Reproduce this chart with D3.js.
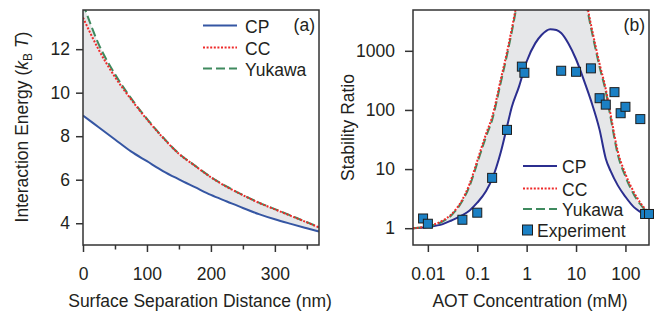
<!DOCTYPE html>
<html>
<head>
<meta charset="utf-8">
<script src="https://cdn.jsdelivr.net/npm/d3@7"></script>
<style>
  html, body { margin: 0; padding: 0; background: #fff; }
  svg { display: block; font-family: "Liberation Sans", Arial, Helvetica, sans-serif; }
  text { fill: #231f20; }
</style>
</head>
<body>
<svg id="chart" width="657" height="314"></svg>
<script>
// ---------------- Panel (a) data ----------------
const distX   = [0, 25, 50, 75, 100, 125, 150, 175, 200, 225, 250, 275, 300, 325, 350, 369];
const energyCP = [8.95, 8.4, 7.85, 7.3, 6.85, 6.4, 6.02, 5.66, 5.3, 5.0, 4.7, 4.42, 4.18, 3.97, 3.77, 3.62];
const energyCC = [13.45, 11.95, 10.72, 9.7, 8.77, 7.93, 7.19, 6.64, 6.11, 5.67, 5.29, 4.94, 4.64, 4.34, 4.04, 3.81];
const energyYukawa = [14.1, 12.2, 10.85, 9.75, 8.8, 7.95, 7.2, 6.65, 6.12, 5.68, 5.3, 4.95, 4.65, 4.35, 4.05, 3.82];
const distTicks = [0, 100, 200, 300];
const distMinorTicks = [50, 150, 250, 350];
const energyTicks = [4, 6, 8, 10, 12];

// ---------------- Panel (b) data ----------------
const aotX = [0.005, 0.01, 0.02, 0.03, 0.05, 0.07, 0.1, 0.15, 0.2, 0.3, 0.4, 0.5, 0.7, 1, 1.5, 2, 3, 4, 5, 7, 10, 15, 20, 30, 40, 50, 70, 100, 150, 200, 300];
const stabCP = [1.0, 1.05, 1.17, 1.35, 1.66, 2.0, 2.7, 4.2, 6.8, 19.5, 52, 112, 248, 660, 1350, 1850, 2320, 2250, 2000, 1330, 720, 290, 145, 46, 15, 9.3, 5.3, 3.4, 2.25, 1.89, 1.55];
const stabCC = [1.0, 1.08, 1.35, 1.72, 3.05, 5.6, 13.8, 39, 76, 330, 950, 2350, 9500, 28000, 65000, 95000, 105000, 100000, 85000, 55000, 28000, 9000, 2800, 600, 225, 85, 20, 8.3, 4.0, 2.7, 1.8];
const stabYukawa = [1.0, 1.07, 1.3, 1.66, 2.9, 5.2, 12.6, 35, 68, 295, 850, 2090, 8900, 25000, 60000, 90000, 100000, 95000, 80000, 50000, 25000, 8000, 2500, 530, 205, 75, 17.7, 7.5, 3.65, 2.54, 1.74];
const expX = [0.008, 0.01, 0.05, 0.1, 0.2, 0.4, 0.8, 0.9, 5, 10, 20, 30, 40, 60, 80, 100, 200, 250, 300];
const expY = [1.46, 1.19, 1.39, 1.83, 7.1, 46, 540, 425, 460, 442, 505, 158, 123, 200, 88, 113, 70, 1.74, 1.74];
const aotTicks = [0.01, 0.1, 1, 10, 100];
const aotTickLabels = ["0.01", "0.1", "1", "10", "100"];
const stabTicks = [1, 10, 100, 1000];
const stabTickLabels = ["1", "10", "100", "1000"];

const legendA = ["CP", "CC", "Yukawa"];
const legendB = ["CP", "CC", "Yukawa", "Experiment"];

// ---------------- styles ----------------
const COL_CP_A = "#3556a3";
const COL_CP_B = "#2b2e8f";
const COL_CC = "#ee2a2a";
const COL_YUK = "#3f8a5e";
const COL_FILL = "#e6e7e9";
const COL_AXIS = "#333333";
const COL_SQ = "#1b80c4";
const DASH_YUK = "9,4";
const DASH_CC = "2,1.6";
const FS = 17.5;

const svg = d3.select("#chart");
const defs = svg.append("defs");

function frame(g, x0, x1, y0, y1) {
  g.append("rect").attr("x", x0).attr("y", y0).attr("width", x1 - x0).attr("height", y1 - y0)
    .attr("fill", "none").attr("stroke", COL_AXIS).attr("stroke-width", 1.5);
}
function styleAxis(a) {
  a.select(".domain").remove();
  a.selectAll("line").attr("stroke", COL_AXIS).attr("stroke-width", 1.5);
  a.selectAll("text").attr("font-size", FS).attr("font-family", null).attr("fill", "#231f20");
}

// ================= Panel (a) =================
{
  const L = 83, R = 319, T = 10, B = 245;
  const x = d3.scaleLinear().domain([0, 369]).range([L, R]);
  const y = d3.scaleLinear().domain([3, 13.8]).range([B, T]);
  const g = svg.append("g");
  defs.append("clipPath").attr("id", "clipA").append("rect")
    .attr("x", L).attr("y", T).attr("width", R - L).attr("height", B - T);
  const pg = g.append("g").attr("clip-path", "url(#clipA)");

  const idx = d3.range(distX.length);
  pg.append("path")
    .attr("d", d3.area().x(i => x(distX[i])).y0(i => y(energyCP[i])).y1(i => y(energyYukawa[i])).curve(d3.curveMonotoneX)(idx))
    .attr("fill", COL_FILL);
  const line = arr => d3.line().x(i => x(distX[i])).y(i => y(arr[i])).curve(d3.curveMonotoneX)(idx);
  pg.append("path").attr("d", line(energyCP)).attr("fill", "none").attr("stroke", COL_CP_A).attr("stroke-width", 2);
  pg.append("path").attr("d", line(energyYukawa)).attr("fill", "none").attr("stroke", COL_YUK).attr("stroke-width", 2).attr("stroke-dasharray", DASH_YUK);
  pg.append("path").attr("d", line(energyCC)).attr("fill", "none").attr("stroke", COL_CC).attr("stroke-width", 2).attr("stroke-dasharray", DASH_CC);

  frame(g, L, R, T, B);

  g.append("g").attr("transform", `translate(0,${B})`)
    .call(d3.axisBottom(x).tickValues(distTicks).tickSize(7).tickPadding(15.6).tickSizeOuter(0))
    .call(styleAxis);
  g.append("g").attr("transform", `translate(0,${B})`)
    .call(d3.axisBottom(x).tickValues(distMinorTicks).tickSize(4.5).tickFormat("").tickSizeOuter(0))
    .call(styleAxis);
  g.append("g").attr("transform", `translate(${L},0)`)
    .call(d3.axisLeft(y).tickValues(energyTicks).tickSize(7).tickPadding(6).tickSizeOuter(0))
    .call(styleAxis);

  g.append("text").attr("x", 200).attr("y", 307).attr("text-anchor", "middle").attr("font-size", FS)
    .text("Surface Separation Distance (nm)");

  const yt = g.append("text").attr("transform", "translate(22,127) rotate(-90)").attr("y", 6.1)
    .attr("text-anchor", "middle").attr("font-size", FS);
  yt.append("tspan").text("Interaction Energy (");
  yt.append("tspan").attr("font-style", "italic").text("k");
  yt.append("tspan").attr("font-size", 12).attr("dy", 4).text("B");
  yt.append("tspan").attr("dy", -4).text(" ");
  yt.append("tspan").attr("font-style", "italic").text("T");
  yt.append("tspan").text(")");

  g.append("text").attr("x", 315).attr("y", 25).attr("dy", "0.35em").attr("text-anchor", "end").attr("font-size", FS).text("(a)");

  const rowsA = [25.5, 47.5, 68.5];
  const stylesA = [
    { c: COL_CP_A, d: null }, { c: COL_CC, d: DASH_CC }, { c: COL_YUK, d: DASH_YUK }
  ];
  legendA.forEach((name, i) => {
    g.append("line").attr("x1", 203).attr("x2", 237).attr("y1", rowsA[i]).attr("y2", rowsA[i])
      .attr("stroke", stylesA[i].c).attr("stroke-width", 2).attr("stroke-dasharray", stylesA[i].d);
    g.append("text").attr("x", 245).attr("y", rowsA[i] + 1).attr("dy", "0.35em").attr("font-size", FS).text(name);
  });
}

// ================= Panel (b) =================
{
  const L = 413, R = 649, T = 10, B = 245;
  const x = d3.scaleLog().domain([0.005, 300]).range([L, R]);
  const y = d3.scaleLog().domain([0.52, 4900]).range([B, T]);
  const g = svg.append("g");
  defs.append("clipPath").attr("id", "clipB").append("rect")
    .attr("x", L).attr("y", T).attr("width", R - L).attr("height", B - T);
  const pg = g.append("g").attr("clip-path", "url(#clipB)");

  const idx = d3.range(aotX.length);
  pg.append("path")
    .attr("d", d3.area().x(i => x(aotX[i])).y0(i => y(stabCP[i])).y1(i => y(stabYukawa[i])).curve(d3.curveMonotoneX)(idx))
    .attr("fill", COL_FILL);
  const line = arr => d3.line().x(i => x(aotX[i])).y(i => y(arr[i])).curve(d3.curveMonotoneX)(idx);
  pg.append("path").attr("d", line(stabCP)).attr("fill", "none").attr("stroke", COL_CP_B).attr("stroke-width", 2);
  pg.append("path").attr("d", line(stabYukawa)).attr("fill", "none").attr("stroke", COL_YUK).attr("stroke-width", 2).attr("stroke-dasharray", DASH_YUK);
  pg.append("path").attr("d", line(stabCC)).attr("fill", "none").attr("stroke", COL_CC).attr("stroke-width", 2).attr("stroke-dasharray", DASH_CC);

  frame(g, L, R, T, B);

  const S = 9;
  g.append("g").selectAll("rect").data(d3.range(expX.length)).join("rect")
    .attr("x", i => x(expX[i]) - S / 2).attr("y", i => y(expY[i]) - S / 2)
    .attr("width", S).attr("height", S)
    .attr("fill", COL_SQ).attr("stroke", "#1d1d1d").attr("stroke-width", 1);

  g.append("g").attr("transform", `translate(0,${B})`)
    .call(d3.axisBottom(x).tickValues(aotTicks).tickFormat((d, i) => aotTickLabels[i]).tickSize(7).tickPadding(15.6).tickSizeOuter(0))
    .call(styleAxis);
  g.append("g").attr("transform", `translate(${L},0)`)
    .call(d3.axisLeft(y).tickValues(stabTicks).tickFormat((d, i) => stabTickLabels[i]).tickSize(8).tickPadding(10).tickSizeOuter(0))
    .call(styleAxis);

  g.append("text").attr("x", 530).attr("y", 307).attr("text-anchor", "middle").attr("font-size", FS)
    .text("AOT Concentration (mM)");
  g.append("text").attr("transform", "translate(348,127.5) rotate(-90)").attr("y", 6.1)
    .attr("text-anchor", "middle").attr("font-size", FS).text("Stability Ratio");

  g.append("text").attr("x", 645).attr("y", 25).attr("dy", "0.35em").attr("text-anchor", "end").attr("font-size", FS).text("(b)");

  const rowsB = [166, 188.5, 209, 230];
  const stylesB = [
    { c: COL_CP_B, d: null }, { c: COL_CC, d: DASH_CC }, { c: COL_YUK, d: DASH_YUK }
  ];
  legendB.forEach((name, i) => {
    if (i < 3) {
      g.append("line").attr("x1", 523).attr("x2", 557).attr("y1", rowsB[i]).attr("y2", rowsB[i])
        .attr("stroke", stylesB[i].c).attr("stroke-width", 2).attr("stroke-dasharray", stylesB[i].d);
      g.append("text").attr("x", 562).attr("y", rowsB[i] + 1).attr("dy", "0.35em").attr("font-size", FS).text(name);
    } else {
      g.append("rect").attr("x", 527.5 - 5).attr("y", rowsB[i] - 5).attr("width", 10).attr("height", 10)
        .attr("fill", COL_SQ).attr("stroke", "#1d1d1d").attr("stroke-width", 1);
      g.append("text").attr("x", 537).attr("y", rowsB[i] + 1).attr("dy", "0.35em").attr("font-size", FS).text(name);
    }
  });
}
</script>
</body>
</html>
